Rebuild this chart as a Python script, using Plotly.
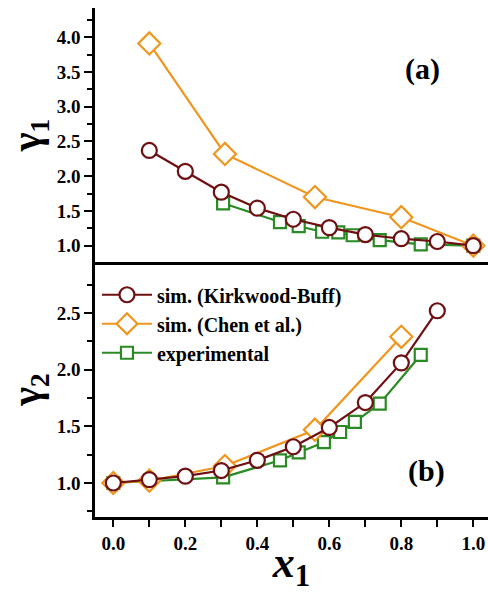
import plotly.graph_objects as go

# ---- data ----
x_kb1 = [0.1, 0.2, 0.3, 0.4, 0.5, 0.6, 0.7, 0.8, 0.9, 1.0]
g1_kb = [2.37, 2.07, 1.77, 1.54, 1.38, 1.26, 1.16, 1.10, 1.06, 1.00]
x_chen1 = [0.1, 0.31, 0.56, 0.80, 1.0]
g1_chen = [3.91, 2.32, 1.70, 1.41, 1.00]
x_exp1 = [0.305, 0.463, 0.515, 0.580, 0.625, 0.665, 0.740, 0.854, 1.0]
g1_exp = [1.61, 1.34, 1.28, 1.20, 1.19, 1.15, 1.08, 1.02, 1.00]

x_kb2 = [0.0, 0.1, 0.2, 0.3, 0.4, 0.5, 0.6, 0.7, 0.8, 0.9]
g2_kb = [1.00, 1.03, 1.06, 1.11, 1.20, 1.32, 1.49, 1.71, 2.06, 2.52]
x_chen2 = [0.0, 0.1, 0.31, 0.56, 0.80]
g2_chen = [1.00, 1.02, 1.15, 1.47, 2.29]
x_exp2 = [0.0, 0.305, 0.463, 0.515, 0.585, 0.630, 0.671, 0.740, 0.854]
g2_exp = [1.00, 1.05, 1.20, 1.27, 1.36, 1.45, 1.54, 1.70, 2.13]

names = ["sim. (Kirkwood-Buff)", "sim. (Chen et al.)", "experimental"]
x_ticks = [0.0, 0.2, 0.4, 0.6, 0.8, 1.0]

C_KB = "#6e0f12"
C_CHEN = "#f0961e"
C_EXP = "#2a8a24"
FONT = "Liberation Serif, Times New Roman, serif"
TICKFONT = dict(family=FONT, size=19, color="black", weight="bold")

fig = go.Figure()

def add(x, y, name, color, symbol, size, xa, ya, show, rank):
    fig.add_trace(go.Scatter(
        x=x, y=y, mode="lines+markers", name=name,
        line=dict(color=color, width=2.2),
        marker=dict(symbol=symbol, size=size, color="white",
                    line=dict(color=color, width=2.2)),
        xaxis=xa, yaxis=ya, showlegend=show, legendrank=rank,
        cliponaxis=False,
    ))

# top panel (gamma1): x2 / y2
add(x_exp1, g1_exp, names[2], C_EXP, "square", 12, "x2", "y2", False, 3)
add(x_chen1, g1_chen, names[1], C_CHEN, "diamond", 17, "x2", "y2", False, 2)
add(x_kb1, g1_kb, names[0], C_KB, "circle", 15, "x2", "y2", False, 1)
# bottom panel (gamma2): x / y
add(x_exp2, g2_exp, names[2], C_EXP, "square", 12, "x", "y", True, 3)
add(x_chen2, g2_chen, names[1], C_CHEN, "diamond", 17, "x", "y", True, 2)
add(x_kb2, g2_kb, names[0], C_KB, "circle", 15, "x", "y", True, 1)

XR = [-0.0509, 1.0408]
YR1 = [0.765, 4.42]
YR2 = [0.70, 2.95]
split = 255 / 509

common = dict(showgrid=False, zeroline=False, linecolor="black", linewidth=2.5,
              tickcolor="black", tickwidth=2, tickfont=TICKFONT)

fig.update_layout(
    width=488, height=593,
    margin=dict(l=95, r=0, t=8, b=76),
    paper_bgcolor="white", plot_bgcolor="white",
    font=dict(family=FONT, size=19, color="black", weight="bold"),
    xaxis=dict(range=XR, anchor="y", domain=[0, 1], showline=True,
               ticks="outside", ticklen=7, tickvals=x_ticks,
               ticktext=[f"{v:.1f}" for v in x_ticks],
               minor=dict(dtick=0.1, tick0=0, ticks="outside", ticklen=7,
                          tickwidth=2, tickcolor="black"),
               title=dict(text="<i>x</i><sub>1</sub>",
                          font=dict(size=44, family=FONT, weight="bold"),
                          standoff=0),
               **common),
    xaxis3=dict(range=XR, anchor="y", overlaying="x", side="top", showline=True,
                ticks="inside", ticklen=8, dtick=0.1, tick0=0,
                showticklabels=False, **common),
    xaxis2=dict(range=XR, anchor="y2", domain=[0, 1], showline=True,
                ticks="", showticklabels=False, **common),
    xaxis4=dict(range=XR, anchor="y2", overlaying="x2", side="top", showline=True,
                ticks="inside", ticklen=8, dtick=0.1, tick0=0,
                showticklabels=False, **common),
    yaxis=dict(range=YR2, domain=[0, split], anchor="x", showline=True,
               ticks="outside", ticklen=8, dtick=0.5, tick0=0, tickformat=".1f",
               minor=dict(dtick=0.25, tick0=0, ticks="outside", ticklen=5,
                          tickwidth=2, tickcolor="black"),
               title=dict(text="γ<sub>2</sub>",
                          font=dict(size=40, family=FONT, weight="bold"),
                          standoff=4),
               **common),
    yaxis3=dict(range=YR2, anchor="x", overlaying="y", side="right",
                showline=False, ticks="inside", ticklen=6, dtick=0.5, tick0=0,
                showticklabels=False,
                minor=dict(dtick=0.25, tick0=0, ticks="inside", ticklen=3,
                           tickwidth=2, tickcolor="black"),
                **common),
    yaxis2=dict(range=YR1, domain=[split, 1], anchor="x2", showline=True,
                ticks="outside", ticklen=8, dtick=0.5, tick0=0, tickformat=".1f",
                minor=dict(dtick=0.25, tick0=0, ticks="outside", ticklen=5,
                           tickwidth=2, tickcolor="black"),
                title=dict(text="γ<sub>1</sub>",
                           font=dict(size=40, family=FONT, weight="bold"),
                           standoff=4),
                **common),
    yaxis4=dict(range=YR1, anchor="x2", overlaying="y2", side="right",
                showline=False, ticks="inside", ticklen=6, dtick=0.5, tick0=0,
                showticklabels=False,
                minor=dict(dtick=0.25, tick0=0, ticks="inside", ticklen=3,
                           tickwidth=2, tickcolor="black"),
                **common),
    legend=dict(x=0.005, y=0.475, xanchor="left", yanchor="top",
                bgcolor="rgba(0,0,0,0)", font=dict(size=20, family=FONT, weight="bold"),
                tracegroupgap=0, itemwidth=50),
    annotations=[
        dict(text="(a)", x=0.883, y=0.835, xref="x2 domain", yref="y2 domain",
             showarrow=False, font=dict(size=30, family=FONT, weight="bold")),
        dict(text="(b)", x=0.895, y=0.106, xref="x domain", yref="y domain",
             showarrow=False, font=dict(size=30, family=FONT, weight="bold")),
    ],
)

fig.write_html("out.html")
